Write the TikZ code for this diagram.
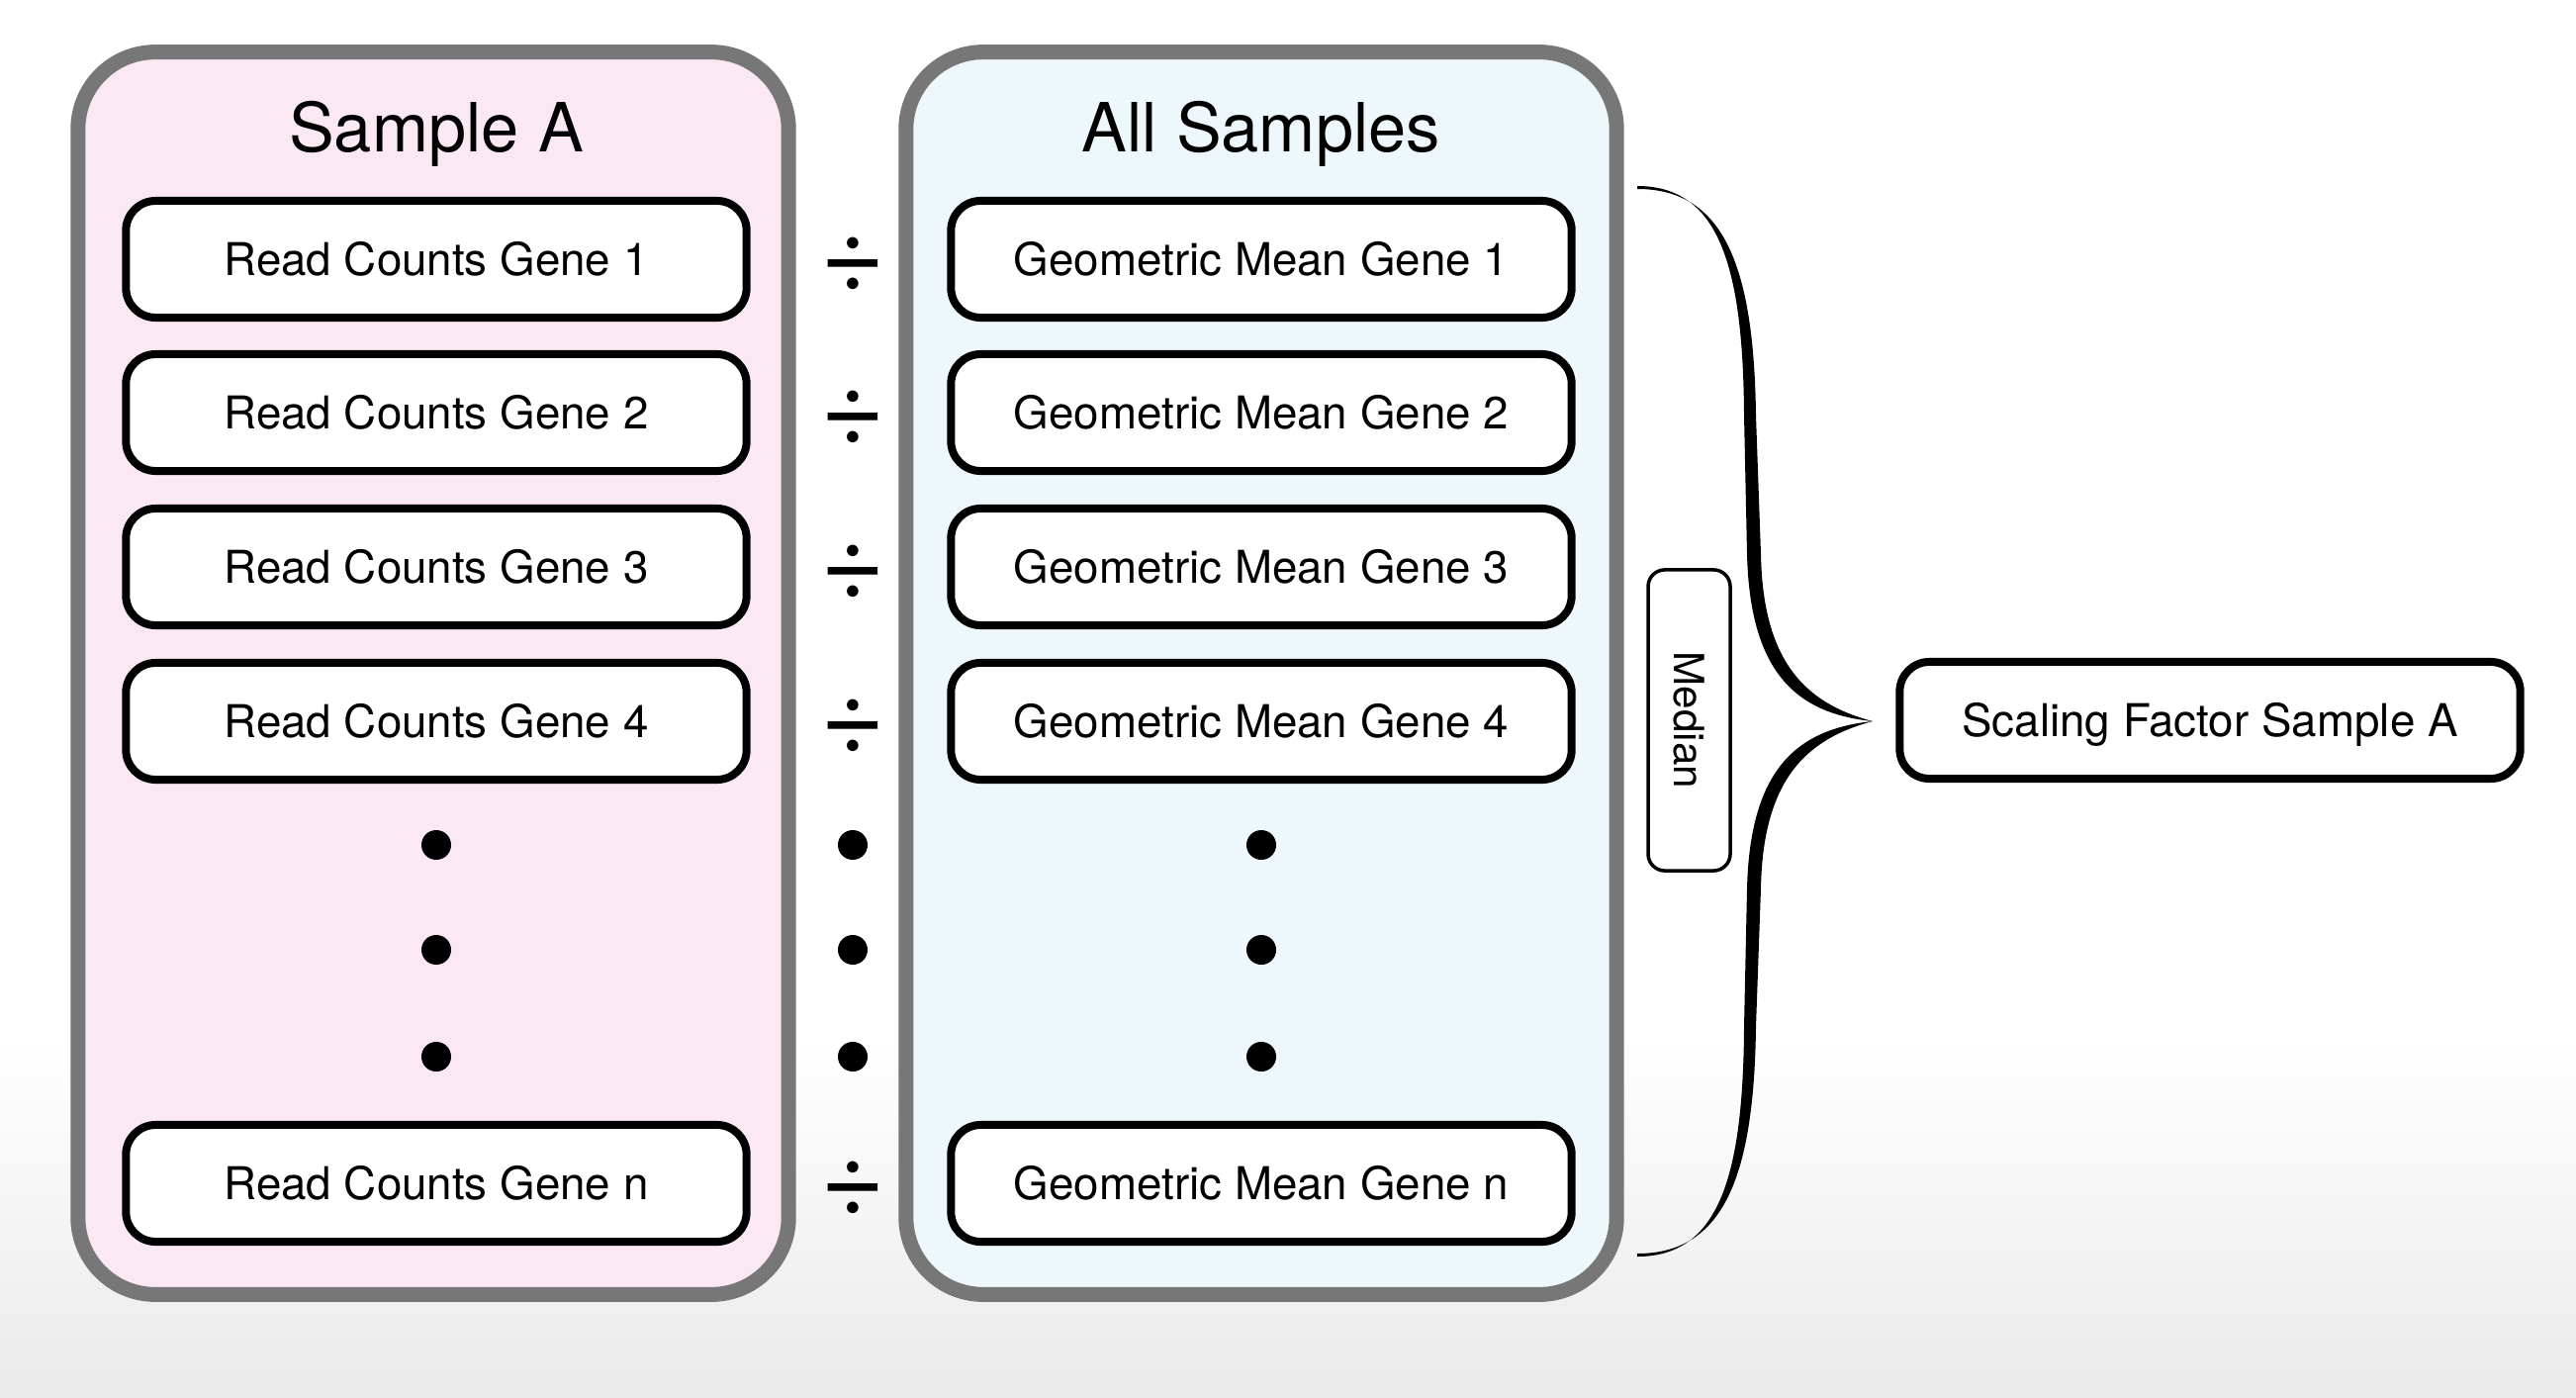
\documentclass[tikz,border=0pt]{standalone}
\usepackage{fontspec}
\setmainfont{TeX Gyre Heros}
\usepackage{tikz}
\usetikzlibrary{positioning}
\definecolor{mpink}{HTML}{FAE8F3}
\definecolor{mblue}{HTML}{EDF7FC}
\definecolor{mframe}{HTML}{777777}
\definecolor{mfloor}{HTML}{EAEAEA}
\tikzset{
  panel/.style={draw=mframe, line width=0.15cm, rounded corners=0.78cm,
                minimum width=7.18cm, minimum height=12.55cm, inner sep=0pt},
  paneltitle/.style={font=\fontsize{19.5}{23}\selectfont, inner sep=0pt, anchor=base},
  genebox/.style={draw=black, fill=white, line width=0.08cm, rounded corners=0.3cm,
                  minimum width=6.27cm, minimum height=1.18cm, inner sep=0pt,
                  font=\fontsize{13}{15}\selectfont, text height=9.3pt, text depth=0pt},
  medianbox/.style={draw=black, fill=white, line width=0.035cm, rounded corners=0.17cm,
                    minimum width=3.04cm, minimum height=0.83cm, inner sep=0pt,
                    font=\fontsize{12}{14}\selectfont, text height=8.6pt, text depth=0pt},
  divsign/.style={font=\fontsize{32}{32}\selectfont, inner sep=0pt},
}

\begin{document}
\begin{tikzpicture}[x=0.01cm, y=-0.01cm]

  \useasboundingbox (0,0) rectangle (2604,1412);

  %% ── Background ──
  \fill[white] (0,0) rectangle (2604,1060);
  \shade[top color=white, bottom color=mfloor] (0,1050) rectangle (2604,1412);

  %% ═══════════ PANELS ═══════════
  \node[panel, fill=mpink] (sampleA) at (438,680.5) {};
  \node[panel, fill=mblue] (allS) at (1275,680.5) {};
  \node[paneltitle] (titleA) at (441,153) {Sample A};
  \node[paneltitle] (titleAll) at (1275,153) {All Samples};

  %% Gene rows
  \foreach \i/\y in {1/262, 2/417, 3/573, 4/729}{
    \node[genebox] (rc\i) at (441,\y) {Read Counts Gene \i};
    \node[genebox] (gm\i) at (1275,\y) {Geometric Mean Gene \i};
    \node[divsign] (div\i) at (862,{\y+5}) {÷};
  }
  \node[genebox] (rcn) at (441,1196) {Read Counts Gene n};
  \node[genebox] (gmn) at (1275,1196) {Geometric Mean Gene n};
  \node[divsign] (divn) at (862,1201) {÷};

  %% Ellipsis dots
  \foreach \x in {441, 862, 1275}{
    \foreach \y in {854, 960, 1068}{
      \fill (\x,\y) circle (0.15cm);
    }
  }

  %% ═══════════ MEDIAN ═══════════
  \node[medianbox, rotate=-90] (median) at (1707.5,728) {Median};

  %% Curly brace (two mirrored halves)
  \foreach \s in {1,-1}{
    \fill[shift={(0,729)}, yscale=\s]
      (1655,-541) .. controls (1738,-541) and (1762,-459) .. (1763,-309)
      -- (1766,-169) .. controls (1769,-50) and (1815,-8) .. (1893,0)
      .. controls (1825,-18) and (1782,-60) .. (1780,-169)
      -- (1775,-309) .. controls (1773,-465) and (1740,-538) .. (1655,-538)
      -- cycle;
  }

  %% ═══════════ RESULT ═══════════
  \node[genebox] (scaleA) at (2234,728) {Scaling Factor Sample A};

\end{tikzpicture}
\end{document}
